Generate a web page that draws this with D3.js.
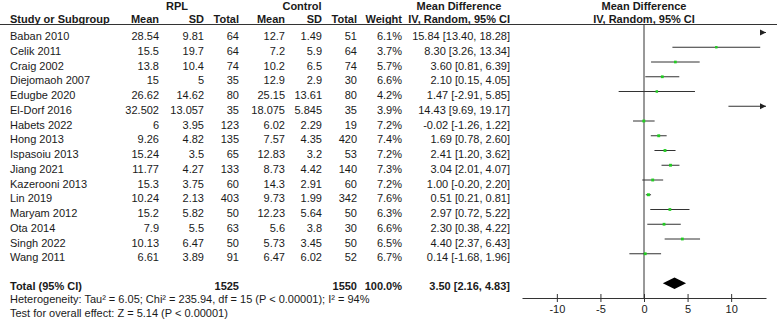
<!DOCTYPE html>
<html lang="en">
<head>
  <meta charset="UTF-8">
  <title>Forest plot</title>
  <script src="https://cdn.jsdelivr.net/npm/d3@7"></script>
  <style>
    body { margin: 0; background: #fff; }
    text { font-family: "Liberation Sans", Arial, sans-serif; font-size: 11px; fill: #1a1a1a; }
    .b { font-weight: bold; }
  </style>
</head>
<body>
<div id="chart"></div>
<script>
// study data
const studies = ["Baban 2010", "Celik 2011", "Craig 2002", "Diejomaoh 2007", "Edugbe 2020",
  "El-Dorf 2016", "Habets 2022", "Hong 2013", "Ispasoiu 2013", "Jiang 2021", "Kazerooni 2013",
  "Lin 2019", "Maryam 2012", "Ota 2014", "Singh 2022", "Wang 2011"];
const rplMean = [28.54, 15.5, 13.8, 15, 26.62, 32.502, 6, 9.26, 15.24, 11.77, 15.3, 10.24, 15.2, 7.9, 10.13, 6.61];
const rplSD = [9.81, 19.7, 10.4, 5, 14.62, 13.057, 3.95, 4.82, 3.5, 4.27, 3.75, 2.13, 5.82, 5.5, 6.47, 3.89];
const rplTotal = [64, 64, 74, 35, 80, 35, 123, 135, 65, 133, 60, 403, 50, 63, 50, 91];
const ctlMean = [12.7, 7.2, 10.2, 12.9, 25.15, 18.075, 6.02, 7.57, 12.83, 8.73, 14.3, 9.73, 12.23, 5.6, 5.73, 6.47];
const ctlSD = [1.49, 5.9, 6.5, 2.9, 13.61, 5.845, 2.29, 4.35, 3.2, 4.42, 2.91, 1.99, 5.64, 3.8, 3.45, 6.02];
const ctlTotal = [51, 64, 74, 30, 80, 35, 19, 420, 53, 140, 60, 342, 50, 30, 50, 52];
const weights = [6.1, 3.7, 5.7, 6.6, 4.2, 3.9, 7.2, 7.4, 7.2, 7.3, 7.2, 7.6, 6.3, 6.6, 6.5, 6.7];
const md = [15.84, 8.30, 3.60, 2.10, 1.47, 14.43, -0.02, 1.69, 2.41, 3.04, 1.00, 0.51, 2.97, 2.30, 4.40, 0.14];
const ciLow = [13.40, 3.26, 0.81, 0.15, -2.91, 9.69, -1.26, 0.78, 1.20, 2.01, -0.20, 0.21, 0.72, 0.38, 2.37, -1.68];
const ciHigh = [18.28, 13.34, 6.39, 4.05, 5.85, 19.17, 1.22, 2.60, 3.62, 4.07, 2.20, 0.81, 5.22, 4.22, 6.43, 1.96];

// totals
const totalRpl = 1525;
const totalCtl = 1550;
const totalWeight = 100.0;
const totalMd = [3.50, 2.16, 4.83];
const heterogeneity = "Heterogeneity: Tau² = 6.05; Chi² = 235.94, df = 15 (P < 0.00001); I² = 94%";
const overallTest = "Test for overall effect: Z = 5.14 (P < 0.00001)";
const axisTicks = [-10, -5, 0, 5, 10];

const W = 777, H = 323;
const svg = d3.select("#chart").append("svg")
  .attr("width", W)
  .attr("height", H);

const x = d3.scaleLinear().domain([-14, 14]).range([522, 766]);
const y = d3.scalePoint().domain(studies).range([36, 36 + 15 * 14.75]);

// plain hyphen minus like the original
const f2 = v => v.toFixed(2);
const ci = (m, l, h) => `${f2(m)} [${f2(l)}, ${f2(h)}]`;

function txt(s, xx, yy, anchor, cls) {
  return svg.append("text").attr("x", xx).attr("y", yy)
    .attr("text-anchor", anchor || "start").attr("class", cls || null).text(s);
}

// header
txt("RPL", 177, 9.5, "middle", "b");
txt("Control", 302, 9.5, "middle", "b");
txt("Mean Difference", 459, 9.5, "middle", "b");
txt("Mean Difference", 644, 9.5, "middle", "b");

txt("Study or Subgroup", 10, 22.5, "start", "b");
const headCols = [["Mean", 159], ["SD", 204], ["Total", 239], ["Mean", 285], ["SD", 322], ["Total", 357], ["Weight", 402], ["IV, Random, 95% CI", 510]];
headCols.forEach(c => txt(c[0], c[1], 22.5, "end", "b"));
txt("IV, Random, 95% CI", 644, 22.5, "middle", "b");

svg.append("line")
  .attr("x1", 0).attr("x2", W).attr("y1", 24.5).attr("y2", 24.5)
  .attr("stroke", "#333").attr("stroke-width", 1);

// table rows
const cols = [
  [rplMean, 159], [rplSD, 204], [rplTotal, 239],
  [ctlMean, 285], [ctlSD, 322], [ctlTotal, 357]
];
studies.forEach((s, i) => {
  const ty = y(s) + 4;
  txt(s, 10, ty);
  cols.forEach(c => txt(String(c[0][i]), c[1], ty, "end"));
  txt(weights[i].toFixed(1) + "%", 402, ty, "end");
  txt(ci(md[i], ciLow[i], ciHigh[i]), 510, ty, "end");
});

// total row
const totalY = 286;
txt("Total (95% CI)", 10, totalY + 4, "start", "b");
txt(String(totalRpl), 239, totalY + 4, "end", "b");
txt(String(totalCtl), 357, totalY + 4, "end", "b");
txt(totalWeight.toFixed(1) + "%", 402, totalY + 4, "end", "b");
txt(ci(totalMd[0], totalMd[1], totalMd[2]), 510, totalY + 4, "end", "b");
txt(heterogeneity, 10, 303.3);
txt(overallTest, 10, 317.3);

// plot
const axisY = 298;
svg.append("line")
  .attr("x1", x(0)).attr("x2", x(0)).attr("y1", 24.5).attr("y2", axisY)
  .attr("stroke", "#333");

const [xMin, xMax] = x.domain();
const plot = svg.append("g");
studies.forEach((s, i) => {
  const ly = y(s) - 3.5;
  const l = Math.max(ciLow[i], xMin), h = Math.min(ciHigh[i], xMax);
  plot.append("line")
    .attr("x1", x(l)).attr("x2", x(h)).attr("y1", ly).attr("y2", ly)
    .attr("stroke", "#333").attr("stroke-width", 1);
  if (ciHigh[i] > xMax) {
    const ex = x(xMax);
    plot.append("path")
      .attr("d", `M${ex},${ly} L${ex - 6},${ly - 3} L${ex - 6},${ly + 3} Z`)
      .attr("fill", "#222");
  }
  if (md[i] >= xMin && md[i] <= xMax) {
    const sz = 2 + weights[i] * 0.12;
    plot.append("rect")
      .attr("x", x(md[i]) - sz / 2).attr("y", ly - sz / 2)
      .attr("width", sz).attr("height", sz)
      .attr("fill", "#22cc22");
  }
});

// diamond
const dy = 283.3;
svg.append("path")
  .attr("d", `M${x(totalMd[1])},${dy} L${x(totalMd[0])},${dy - 5.7} L${x(totalMd[2])},${dy} L${x(totalMd[0])},${dy + 5.7} Z`)
  .attr("fill", "#000");

// axis
const xAxis = d3.axisBottom(x).tickValues(axisTicks).tickSize(4).tickSizeOuter(0)
  .tickFormat(d => String(d));
const axisG = svg.append("g").attr("transform", `translate(0,${axisY})`).call(xAxis);
axisG.select(".domain").attr("stroke", "#333");
axisG.selectAll(".tick line").attr("y1", -4).attr("y2", 4).attr("stroke", "#333");
axisG.selectAll(".tick text")
  .attr("y", 15).attr("dy", null)
  .style("font-family", "'Liberation Sans', Arial, sans-serif")
  .style("font-size", "11px")
  .attr("fill", "#1a1a1a");
</script>
</body>
</html>
